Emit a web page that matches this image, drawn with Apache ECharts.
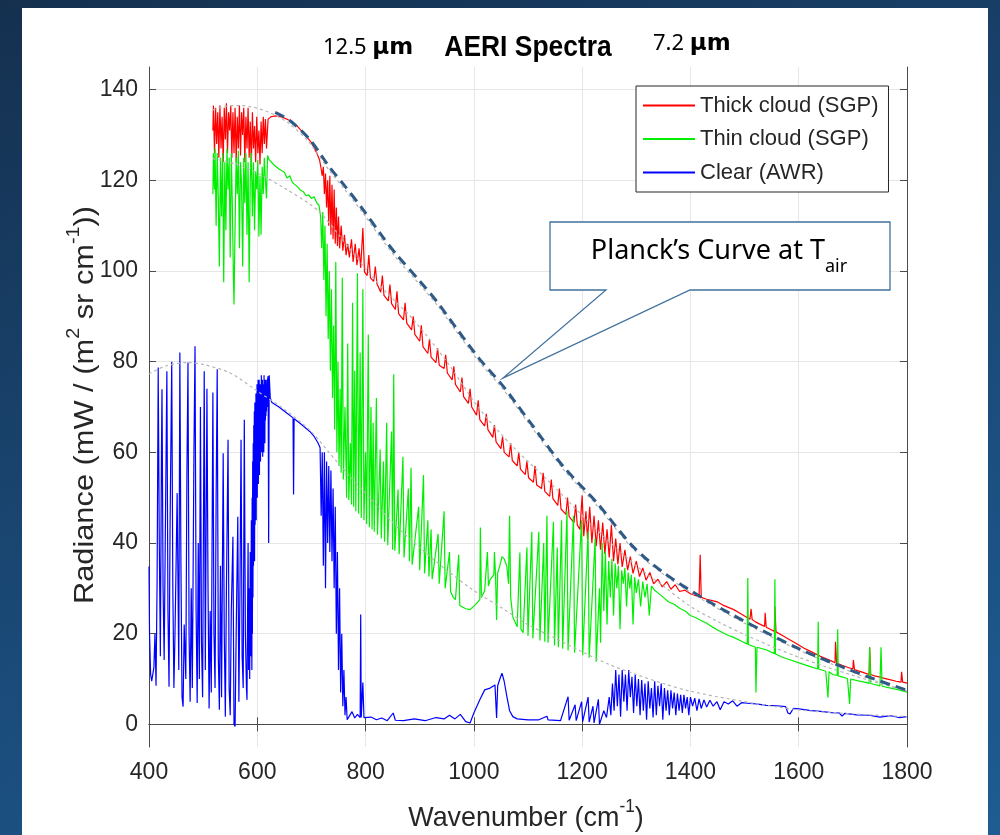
<!DOCTYPE html>
<html>
<head>
<meta charset="utf-8">
<title>AERI Spectra</title>
<script src="https://cdn.jsdelivr.net/npm/echarts@6/dist/echarts.min.js"></script>
<style>
  html, body { margin: 0; padding: 0; }
  body {
    width: 1000px; height: 835px; position: relative; overflow: hidden;
    background: linear-gradient(160deg, #15304f 0%, #1a4a78 55%, #1e5c93 100%);
  }
  #panel { position: absolute; left: 22px; top: 8px; width: 966px; height: 827px; background: #fff; }
  #chart { position: absolute; left: 0; top: 0; width: 1000px; height: 835px; }
</style>
</head>
<body>
<div id="panel"></div>
<div id="chart"></div>
<script>
// axis ticks
var xTicks = [400, 600, 800, 1000, 1200, 1400, 1600, 1800];
var yTicks = [0, 20, 40, 60, 80, 100, 120, 140];

var seriesNames = ['Thick cloud (SGP)', 'Thin cloud (SGP)', 'Clear (AWR)'];

// [wavenumber, radiance]
var thickCloud = [
  [518,131],[519,136.5],[521,126],[523,136],[525,128],[527,135],[529,125],[531,136.5],[533,127],[535,134],
  [537,124],[539,136],[541,129],[543,137],[545,126],[547,135],[549,131],[551,136.5],[553,125],[555,135],
  [557,126],[559,136],[561,124],[563,134],[565,127],[567,136.5],[569,125.5],[571,135],[573,130],[575,136],
  [577,124],[579,134],[581,127],[583,136],[585,125],[587,133],[589,123],[591,135],[593,127],[595,132],
  [597,124],[599,134],[601,126],[603,131],[605,123.5],[607,133],[609,126],[611,134],[613,128],[615,133.5],
  [617,127],[620,133.5],[625,134],[632,134.2],[645,134],[660,133.2],[675,131.8],[690,129.8],[700,128.3],[710,126],
  [715,124.5],[718,122.5],[720,121],[722,123],[724,117],[726,121.5],[728,114],[730,120],[732,110],[734,121],
  [736,108],[738,119],[740,107],[742,118],[744,106],[746,114],[748,105.5],[750,112],[752,105],[755,110],
  [758,104.5],[761,108],[764,103.5],[767,106],[770,103],[774,107],[777,102],[781,106],[784,101.3],[788,105],
  [791,100.7],[795,109.5],[798,99.8],[803,99],[806,103.5],[809,98.5],[815,97.7],[818,101],[821,97.2],[828,95.3],
  [831,99],[834,94.6],[842,93.4],[845,97],[848,92.8],[855,91.5],[858,95.5],[861,90.6],[870,89.2],[873,93],
  [876,88.5],[885,87],[888,90],[891,86],[900,84.5],[903,88],[906,83.3],[915,81.8],[918,85],[921,81],
  [930,79.8],[933,83],[936,79.2],[945,78.5],[948,81.5],[951,77.5],[960,76],[963,79],[966,75],[975,73.3],
  [978,76.5],[981,72.3],[990,70.8],[993,74],[996,70],[1005,68.2],[1008,71.5],[1011,67.2],[1020,65.8],[1023,68.5],
  [1026,65],[1035,63.3],[1038,66],[1041,62.3],[1050,60.8],[1053,63.5],[1056,60],[1065,59],[1068,62],[1071,58.2],
  [1080,57],[1083,60],[1086,56.3],[1095,55.1],[1098,58],[1101,54.4],[1110,53.4],[1113,57],[1116,52.8],[1125,52],
  [1128,55.5],[1131,51.4],[1140,50.3],[1143,54],[1146,49.8],[1155,48.3],[1158,52],[1161,47.5],[1170,46.3],[1173,50],
  [1176,45.8],[1185,44.5],[1188,48.5],[1191,44],[1196,43],[1200,50.5],[1203,41.5],[1207,47],[1210,40.8],[1214,48],
  [1218,40],[1222,46],[1226,39.3],[1230,45],[1234,38.5],[1238,44.5],[1242,37.6],[1246,43],[1250,36.8],[1254,44],
  [1258,36],[1262,41],[1266,35.3],[1270,40],[1274,34.7],[1279,38.5],[1284,34],[1289,37],[1294,33.3],[1300,36],
  [1306,32.6],[1312,34.5],[1318,31.8],[1325,33.5],[1332,31],[1340,32],[1348,30.3],[1356,31.5],[1364,29.8],[1372,30.8],
  [1380,29.3],[1390,29.6],[1400,28.8],[1410,28.4],[1416,28.2],[1418,37.4],[1420,28],[1430,27.6],[1440,27.3],[1450,27],
  [1460,26.3],[1470,25.8],[1480,25.3],[1490,24.6],[1500,23.9],[1510,23.2],[1512,25.5],[1514,23.1],[1520,22.6],[1530,22],
  [1537,21.6],[1538,24.6],[1540,21.4],[1550,20.8],[1555,20.5],[1556,26],[1558,20.4],[1570,19.6],[1580,18.9],[1590,18.2],
  [1600,17.5],[1610,16.8],[1620,16.2],[1630,15.6],[1640,15],[1650,14.5],[1660,14],[1667,13.6],[1668,18.2],[1670,13.5],
  [1680,13],[1690,12.6],[1700,12.2],[1701,14.2],[1703,12.1],[1710,11.8],[1720,11.4],[1730,11],[1731,17],[1733,11],
  [1740,10.7],[1750,10.4],[1760,10.1],[1770,9.8],[1780,9.5],[1789,9.3],[1790,11.6],[1792,9.3],[1800,9.1]
];

var thinCloud = [
  [518,117],[519,126],[521,118],[522,127],[524,110],[526,126],[528,116],[530,101],[532,125],[534,112],
  [536,126],[538,97.5],[540,124],[542,109],[544,127],[546,118],[548,125],[550,103],[552,126],[554,114],
  [556,98],[557,92.6],[559,110],[561,125],[563,117],[565,126.5],[567,105],[569,124],[571,119],[573,101],
  [575,125],[577,115],[579,126],[581,108],[583,124],[585,97.5],[587,120],[589,126],[591,112],[593,124],
  [595,109],[597,122],[599,118],[601,124.5],[603,107.6],[605,121],[607,108],[609,123],[611,117],[613,125],
  [615,120],[617,116],[619,125.5],[622,124.5],[630,123.5],[640,122.5],[650,121.8],[655,120.5],[660,121],[665,119.5],
  [670,119],[675,118.5],[680,117.8],[685,117.5],[690,116.6],[695,116.8],[700,116],[705,116.4],[710,115],[714,114.5],
  [717,112],[719,105],[721,113],[723,98],[725,110],[727,90],[729,106],[731,85],[733,100],[735,78],
  [737,96],[739,72],[741,88],[743,65],[745,102],[747,60],[749,80],[751,57],[753,74],[755,55.5],
  [757,98.5],[759,54],[762,70],[765,50],[767,84],[769,49.5],[772,62],[774,48.5],[776,93],[778,48],
  [780,78],[782,47],[785,99.5],[787,46.5],[790,82],[792,45.5],[795,96],[797,45],[800,60],[802,44.2],
  [805,86],[807,43.5],[810,70],[812,43],[814,66.5],[816,42.5],[820,72],[822,41.8],[827,60.6],[829,41],
  [833,58],[835,40.3],[839,66.5],[841,39.5],[848,64.6],[850,38.5],[852,77.2],[854,38.3],[860,51.8],[862,37.5],
  [869,59],[871,36.8],[879,52],[881,36],[884,56.6],[886,35.2],[898,48],[900,34],[907,55],[909,33.3],
  [915,45],[917,32.6],[921,43],[923,32],[934,42],[936,31],[945,47],[947,30],[955,38],[957,29.3],
  [962,28],[966,27.5],[972,37.4],[974,26.2],[985,25.5],[993,25.3],[1002,26.3],[1011,27.5],[1012,43.4],[1014,28],
  [1020,29.5],[1025,38],[1027,30.5],[1030,31.9],[1037,33],[1038,38],[1040,33],[1042,23],[1044,33.4],[1048,35],
  [1052,37],[1056,36.5],[1061,34.8],[1064,31],[1066,46],[1068,28],[1072,23.7],[1080,21.5],[1085,37.9],[1087,21],
  [1091,20.2],[1098,39],[1100,19.5],[1107,42.5],[1109,19],[1120,42.5],[1122,18.5],[1129,40],[1131,18.2],[1135,46],
  [1137,18],[1147,44.7],[1149,17.4],[1154,39],[1156,17],[1162,45],[1164,16.7],[1172,47],[1174,16.3],[1184,46],
  [1186,15.8],[1199,45],[1201,15.3],[1211,42.5],[1213,14.7],[1224,41],[1226,13.8],[1229,13.5],[1232,30],[1234,18],
  [1237,40],[1240,25],[1243,38],[1246,22],[1249,36],[1252,28],[1255,36.5],[1258,24],[1261,35.5],[1264,30],
  [1267,35],[1270,21],[1273,34],[1276,31],[1279,34.5],[1282,26],[1285,33.5],[1288,30],[1291,33],[1294,22],
  [1297,32.5],[1300,29],[1304,32],[1308,26],[1312,31.5],[1316,28],[1320,31],[1324,24],[1328,30.5],[1333,29.7],
  [1340,29],[1350,28],[1360,27],[1370,26.5],[1380,25.6],[1390,25],[1400,24],[1410,23.5],[1418,23],[1430,22.3],
  [1440,21.5],[1450,20.8],[1460,20.2],[1470,19.6],[1478,19.3],[1490,18.6],[1500,18],[1505,17.7],[1506,32.3],[1507,17.6],
  [1520,17],[1521,7],[1523,17],[1541,16.4],[1555,15.6],[1556,32],[1557,15.5],[1570,14.8],[1585,14.2],[1602,13.5],
  [1620,12.8],[1635,12.2],[1636,22.6],[1637,12.2],[1650,11.7],[1654,5.9],[1656,11.6],[1663,11],[1671,10.8],[1672,21],
  [1673,10.7],[1690,10.1],[1694,4.5],[1696,10],[1710,9.6],[1726,9.2],[1730,9],[1731,17],[1733,9],[1750,8.5],
  [1752,17],[1754,8.4],[1770,8],[1785,7.6],[1800,7.1]
];

var clearSky = [
  [400,34.8],[401,20],[403,11],[405,9.5],[407,11],[409,12.5],[411,20],[413,8.5],[415,32],[417,78.7],
  [419,40],[421,15],[423,60],[424,73.9],[426,30],[428,14.2],[430,40],[433,77.9],[435,25],[437,8.3],
  [439,45],[442,80],[444,30],[446,8],[448,20],[450,35],[452,51],[455,12],[457,82],[459,35],
  [461,6],[463,3.9],[465,22],[468,10],[470,55],[472,79.8],[474,20],[476,5],[478,30],[480,8],
  [483,60],[485,83.4],[487,25],[489,4.7],[491,40],[493,10],[495,70],[497,18],[499,6],[502,77.9],
  [504,12],[507,74],[509,30],[511,3.5],[513,25],[515,7],[518,73.2],[520,20],[522,8],[524,50],
  [526,78.3],[528,15],[530,3.2],[532,35],[534,6],[537,59.8],[539,20],[541,1.7],[543,30],[546,62.8],
  [548,8],[550,2],[552,25],[555,41.4],[557,0],[559,-0.5],[561,20],[564,45.8],[566,5],[568,30],
  [570,62.8],[572,15],[574,8],[576,67.2],[578,20],[580,8],[581,5.4],[583,40],[584,12],[585,30],
  [586,10],[587,38],[588,15],[589,45],[590,12],[590.5,50],[591,20],[591.5,58],[592,28],[592.5,62],
  [593,35],[593.5,66],[594,40],[594.5,69],[595,36],[595.5,71],[596,44],[596.5,70],[597,48],[597.5,73],
  [598,45],[598.5,72],[599,52],[599.5,75],[600,50],[600.5,74],[601,55],[601.5,76],[602,53],[602.5,73],
  [603,57],[603.5,76],[604,55],[604.5,72],[605,60],[605.5,75],[606,58],[606.5,74],[607,61],[607.5,77],
  [608,60],[608.5,73],[609,63],[609.5,76],[610,59],[610.5,74],[611,64],[611.5,75],[612,60],[612.5,77],
  [613,66],[613.5,74],[614,62],[614.5,76],[615,67],[615.5,74],[616,68],[616.5,76],[617,69],[617.5,75],
  [618,70],[619,76],[620,76.8],[621,40],[622,77],[624,72],[627,71],[640,70],[655,68.6],[666,67.6],
  [667,50.7],[668,67.4],[680,66.3],[697,64.6],[705,63.5],[712,62.1],[716,61],[718,46],[720,60],[722,35],
  [724,60],[726,30],[728,58],[730,40],[732,57],[734,38],[736,56],[738,36],[740,52],[742,30],
  [744,48],[746,20],[748,38],[750,12],[752,30],[754,7],[756,20],[758,4],[760,12],[762,2],
  [764,6],[766,1],[770,1.8],[775,2.8],[780,1.4],[785,2.2],[790,1.5],[791,24.2],[792,1.5],[795,9.2],
  [797,1.5],[800,1.3],[810,1.6],[820,1],[830,1.4],[840,0.8],[851,2.5],[855,0.9],[870,0.8],[890,1.2],
  [910,0.8],[930,1.5],[945,1.2],[955,2],[965,1.2],[975,2.2],[985,0.6],[993,0.3],[1000,2.5],[1011,5.4],
  [1020,7.6],[1030,8],[1039,8.7],[1042,1.4],[1044,8.5],[1048,10],[1052,11.3],[1056,9.5],[1061,6.1],[1066,3],
  [1072,1.7],[1080,1.2],[1100,1],[1120,1],[1135,1.8],[1137,1],[1160,0.8],[1174,6.1],[1176,0.9],[1187,4.3],
  [1189,0.8],[1199,5],[1201,0.6],[1211,6],[1213,0.5],[1220,4],[1222,0.3],[1230,5.5],[1232,0],[1240,3],
  [1245,1.5],[1250,6],[1253,2],[1256,9],[1259,3],[1262,12],[1265,4],[1268,11],[1271,1.7],[1274,12],
  [1277,5],[1280,11],[1283,3],[1286,12],[1289,6],[1292,10.5],[1295,2.5],[1298,11],[1301,4],[1304,10],
  [1307,2],[1310,9.8],[1313,3],[1316,9],[1319,1],[1322,9.5],[1325,3.5],[1328,8],[1331,1.5],[1334,9.5],
  [1337,2],[1340,8.5],[1343,4],[1346,9],[1349,1],[1352,8],[1355,3],[1358,7.5],[1361,2],[1364,7.5],
  [1367,3.5],[1370,7],[1373,2],[1376,6.8],[1379,3],[1382,6.5],[1385,2.5],[1388,6.5],[1391,3.5],[1394,6],
  [1397,2],[1400,6],[1404,4],[1408,5.8],[1412,3],[1416,5.6],[1420,3.5],[1425,5.4],[1430,3.8],[1436,5.3],
  [1442,4],[1449,5],[1455,3.2],[1462,5],[1470,4.5],[1478,5.2],[1486,4],[1495,4.8],[1510,4.6],[1522,4.5],
  [1540,4.2],[1560,4.1],[1576,3.9],[1580,2.5],[1584,2.3],[1590,3.5],[1600,3.4],[1620,3.1],[1645,2.8],[1660,2.6],
  [1675,2.5],[1680,1.8],[1685,2.4],[1707,2.1],[1730,2],[1750,1.6],[1770,1.9],[1785,1.5],[1800,1.7]
];

// grey dotted Planck fits
var thickFit = [
  [518,135.5],[540,136.3],[565,136.5],[590,136.2],[615,135.3],[633,134.4],[660,132.4],[697,128.2],[734,122],[760,118.2],
  [795,112.8],[830,107],[858,102.7],[900,97],[932,92.5],[970,86.3],[1011,79.8],[1054,73.9],[1104,66],[1165,56.3],
  [1227,48.3],[1294,38.7],[1350,33.1],[1418,27.8],[1480,23.6],[1541,19.8],[1600,16.4],[1663,13.2],[1730,10.1],[1800,7.3]
];
var thinFit = [
  [518,124.8],[560,123.6],[600,121.6],[650,118.3],[700,114.5],[720,112.4],[753,107.6],[800,100.5],[839,95.2],[888,89.3],
  [950,80],[1011,69.5],[1070,61.5],[1135,54],[1221,43.6],[1300,35],[1350,30.5],[1400,26],[1450,22.7],[1500,19.8],
  [1550,17.2],[1600,14.8],[1650,12.7],[1700,10.8],[1750,9],[1800,7.4]
];
var clearFit = [
  [400,77.3],[430,79],[470,79.8],[500,79.4],[550,77.5],[600,73.5],[650,69.5],[700,64.5],[750,57.5],[800,51],
  [850,44.5],[900,39],[950,34],[1000,29.5],[1050,25.8],[1100,22],[1150,19],[1200,16],[1250,13.2],[1300,11],
  [1350,9],[1400,7.3],[1500,5],[1600,3.2],[1700,2.3],[1800,1.7]
];

// Planck's curve at T_air (dark dashed)
var planckAir = [
  [633,135],[660,133.2],[697,129],[734,122.8],[760,119],[795,113.6],[830,107.8],[858,103.5],[900,97.8],[932,93.2],
  [970,87],[1011,80.5],[1054,74.6],[1104,66.6],[1165,56.9],[1227,48.9],[1294,39.2],[1350,33.5],[1418,28.2],[1480,24],
  [1541,20.2],[1600,16.7],[1663,13.5],[1730,10.4],[1800,7.5]
];

var SANS = "'Liberation Sans', Arial, sans-serif";
var AXIS_COLOR = '#4a4a4a';
var GRID_COLOR = '#e6e6e6';
var TEXT_COLOR = '#262626';

var chart = echarts.init(document.getElementById('chart'));

function spectrum(name, data, color) {
  return {
    name: name, type: 'line', data: data, showSymbol: false, symbol: 'none',
    xAxisIndex: 0, yAxisIndex: 0,
    lineStyle: { color: color, width: 1.2 }, itemStyle: { color: color }
  };
}
function fit(data) {
  return {
    type: 'line', data: data, showSymbol: false, symbol: 'none', smooth: 0.3,
    xAxisIndex: 0, yAxisIndex: 0, silent: true,
    lineStyle: { color: '#b5b5b5', width: 1.2, type: [3, 3] }
  };
}
function plain(v) { return String(v); }

chart.setOption({
  animation: false,
  grid: [
    { left: 149, right: 93, top: 67, bottom: 88 },            // data area, y -5..145
    { left: 149, right: 93, top: 89.7, bottom: 110.7 }        // label area, y 0..140
  ],
  legend: {
    data: seriesNames,
    orient: 'vertical',
    left: 636, top: 86,
    padding: [8.5, 10, 8.5, 7],
    itemGap: 11.5,
    itemWidth: 52, itemHeight: 2,
    icon: 'rect',
    backgroundColor: '#fff',
    borderColor: TEXT_COLOR, borderWidth: 1, borderRadius: 0,
    textStyle: { fontFamily: SANS, fontSize: 22, color: TEXT_COLOR }
  },
  xAxis: [
    {
      type: 'value', gridIndex: 0, min: xTicks[0], max: xTicks[xTicks.length - 1], interval: 200, position: 'bottom',
      axisLine: { lineStyle: { color: AXIS_COLOR } },
      axisTick: { inside: true, length: 7, lineStyle: { color: AXIS_COLOR } },
      axisLabel: { fontFamily: SANS, fontSize: 23, color: TEXT_COLOR, margin: 14, formatter: plain },
      splitLine: { show: true, lineStyle: { color: GRID_COLOR } }
    },
    {
      type: 'value', gridIndex: 0, min: xTicks[0], max: xTicks[xTicks.length - 1], interval: 200, position: 'top',
      axisLine: { lineStyle: { color: AXIS_COLOR } },
      axisTick: { inside: true, length: 7, lineStyle: { color: AXIS_COLOR } },
      axisLabel: { show: false }, splitLine: { show: false }
    },
    { type: 'value', gridIndex: 1, min: xTicks[0], max: xTicks[xTicks.length - 1], show: false }
  ],
  yAxis: [
    {
      type: 'value', gridIndex: 0, min: -5, max: 145, position: 'left',
      axisLine: { show: true, lineStyle: { color: AXIS_COLOR } },
      axisTick: { show: false }, axisLabel: { show: false }, splitLine: { show: false }
    },
    {
      type: 'value', gridIndex: 0, min: -5, max: 145, position: 'right',
      axisLine: { show: true, lineStyle: { color: AXIS_COLOR } },
      axisTick: { show: false }, axisLabel: { show: false }, splitLine: { show: false }
    },
    {
      type: 'value', gridIndex: 1, min: yTicks[0], max: yTicks[yTicks.length - 1], interval: 20, position: 'left',
      axisLine: { show: false },
      axisTick: { show: true, inside: true, length: 7, lineStyle: { color: AXIS_COLOR } },
      axisLabel: { fontFamily: SANS, fontSize: 23, color: TEXT_COLOR, margin: 11, formatter: plain },
      splitLine: { show: true, lineStyle: { color: GRID_COLOR } }
    },
    {
      type: 'value', gridIndex: 1, min: yTicks[0], max: yTicks[yTicks.length - 1], interval: 20, position: 'right',
      axisLine: { show: false },
      axisTick: { show: true, inside: true, length: 7, lineStyle: { color: AXIS_COLOR } },
      axisLabel: { show: false }, splitLine: { show: false }
    }
  ],
  series: [
    spectrum(seriesNames[0], thickCloud, '#ff0000'),
    spectrum(seriesNames[1], thinCloud, '#00ee00'),
    spectrum(seriesNames[2], clearSky, '#0000ff'),
    fit(thickFit),
    fit(thinFit),
    fit(clearFit),
    {
      type: 'line', data: planckAir, showSymbol: false, symbol: 'none', smooth: 0.3,
      xAxisIndex: 0, yAxisIndex: 0, silent: true, z: 5,
      lineStyle: { color: '#2f5a86', width: 3, type: [10, 6] }
    }
  ],
  graphic: [
    // title line
    {
      type: 'text', x: 323, y: 48, z: 10,
      style: {
        text: '{n|12.5 }{b|μm}', verticalAlign: 'middle',
        rich: {
          n: { fontFamily: "'Noto Sans', sans-serif", fontSize: 22, fill: '#000' },
          b: { fontFamily: "'DejaVu Sans', sans-serif", fontSize: 23, fontWeight: 'bold', fill: '#000' }
        }
      }
    },
    {
      type: 'text', x: 528, y: 48, z: 10, scaleX: 0.88,
      style: {
        text: 'AERI Spectra', align: 'center', verticalAlign: 'middle',
        font: "bold 30px " + SANS, fill: '#000'
      }
    },
    {
      type: 'text', x: 653, y: 44, z: 10,
      style: {
        text: '{n|7.2 }{b|μm}', verticalAlign: 'middle',
        rich: {
          n: { fontFamily: "'Noto Sans', sans-serif", fontSize: 22, fill: '#000' },
          b: { fontFamily: "'DejaVu Sans', sans-serif", fontSize: 23, fontWeight: 'bold', fill: '#000' }
        }
      }
    },
    // axis names
    {
      type: 'text', x: 526, y: 815, z: 10, scaleX: 0.96,
      style: {
        text: '{a|Wavenumber (cm}{s|-1}{a|)}', align: 'center', verticalAlign: 'middle',
        rich: {
          a: { fontFamily: SANS, fontSize: 28, fill: TEXT_COLOR, lineHeight: 34, verticalAlign: 'bottom' },
          s: { fontFamily: SANS, fontSize: 18, fill: TEXT_COLOR, lineHeight: 34, verticalAlign: 'top' }
        }
      }
    },
    {
      type: 'text', x: 82, y: 405, z: 10, rotation: Math.PI / 2, scaleX: 1.1,
      style: {
        text: '{a|Radiance (mW / (m}{s|2}{a| sr cm}{s|-1}{a|))}', align: 'center', verticalAlign: 'middle',
        rich: {
          a: { fontFamily: SANS, fontSize: 28, fill: TEXT_COLOR, lineHeight: 34, verticalAlign: 'bottom' },
          s: { fontFamily: SANS, fontSize: 18, fill: TEXT_COLOR, lineHeight: 34, verticalAlign: 'top' }
        }
      }
    },
    // callout box
    {
      type: 'polygon', z: 20,
      shape: { points: [[550, 222], [890, 222], [890, 290], [690, 290], [503, 378], [606, 290], [550, 290]] },
      style: { fill: '#fff', stroke: '#41719c', lineWidth: 1.3 }
    },
    {
      type: 'text', x: 719, y: 257, z: 21,
      style: {
        text: '{a|Planck’s Curve at T}{s|air}', align: 'center', verticalAlign: 'middle',
        rich: {
          a: { fontFamily: "'Noto Sans', sans-serif", fontSize: 27, fill: '#000', lineHeight: 38, verticalAlign: 'top' },
          s: { fontFamily: "'Noto Sans', sans-serif", fontSize: 18, fill: '#000', lineHeight: 38, verticalAlign: 'bottom' }
        }
      }
    }
  ]
});
</script>
</body>
</html>
